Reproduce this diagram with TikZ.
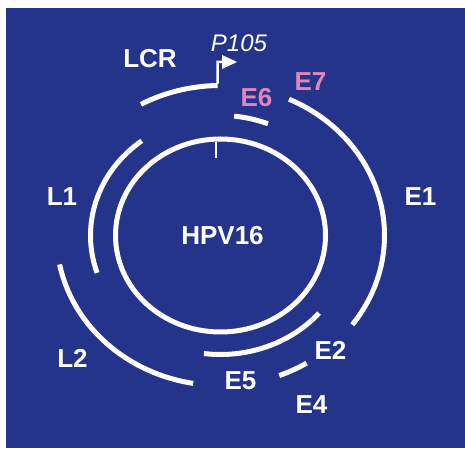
\documentclass[tikz,border=0pt]{standalone}
\usepackage{fontspec}
\setmainfont{Liberation Sans}
\definecolor{bgblue}{RGB}{36,52,138}
\definecolor{pinklab}{RGB}{222,135,190}
\tikzset{
  gene/.style={draw=white, line width=5pt, line cap=butt},
  lab/.style={text=white, font=\bfseries\fontsize{26}{26}\selectfont, anchor=base, inner sep=0pt},
  pinklabel/.style={lab, text=pinklab},
}
\begin{document}
\begin{tikzpicture}[x=1pt,y=1pt]
\useasboundingbox (0,0) rectangle (465,449);
\fill[bgblue] (6,1) rectangle (465,441);
\coordinate (c) at (220.5,213.5);
% inner genome circle
\draw[gene] (c) ellipse [x radius=105pt, y radius=96.5pt];
\draw[white, line width=1.5pt] (216,307) -- (216,291);
% outer ring
\draw[gene, shift={(c)}] (119:164pt and 150pt) arc[start angle=119, end angle=91, x radius=164pt, y radius=150pt] coordinate (lcrend);
\draw[gene, shift={(c)}] (65.3:164pt and 150pt) arc[start angle=65.3, end angle=-36.5, x radius=164pt, y radius=150pt];
\draw[gene, shift={(c)}] (-69:164pt and 150pt) arc[start angle=-69, end angle=-58.3, x radius=164pt, y radius=150pt];
\draw[gene, shift={(c)}] (191.1:164pt and 150pt) arc[start angle=191.1, end angle=260.4, x radius=164pt, y radius=150pt];
% middle ring
\draw[gene, shift={(c)}] (127.3:130pt and 119pt) arc[start angle=127.3, end angle=198.3, x radius=130pt, y radius=119pt];
\draw[gene, shift={(c)}] (84:130pt and 120pt) arc[start angle=84, end angle=68.6, x radius=130pt, y radius=120pt];
\draw[gene, shift={(c)}] (-40.7:130pt and 119pt) arc[start angle=-40.7, end angle=-97.3, x radius=130pt, y radius=119pt];
% promoter arrow
\coordinate (pcorner) at (217.6,387);
\coordinate (pbase) at (222,387);
\draw[white, line width=2.5pt] ([yshift=2pt]lcrend) -- (pcorner) -- (pbase);
\fill[white] (222,394) -- (237,387) -- (222,380) -- cycle;
% labels
\node[lab] (lcr) at (150,381.3) {LCR};
\node[text=white, font=\itshape\fontsize{24}{24}\selectfont, anchor=base, inner sep=0pt] (p105) at (239,397.3) {P105};
\node[pinklabel] (e6) at (256.5,342.3) {E6};
\node[pinklabel] (e7) at (310.5,358.3) {E7};
\node[lab] (e1) at (420.5,243) {E1};
\node[lab] (l1) at (62,243) {L1};
\node[lab] (hpv) at (222.5,204) {HPV16};
\node[lab] (l2) at (72.5,81.7) {L2};
\node[lab] (e2) at (330.5,89.7) {E2};
\node[lab] (e5) at (240.5,59) {E5};
\node[lab] (e4) at (311.5,35.7) {E4};
\end{tikzpicture}
\end{document}
